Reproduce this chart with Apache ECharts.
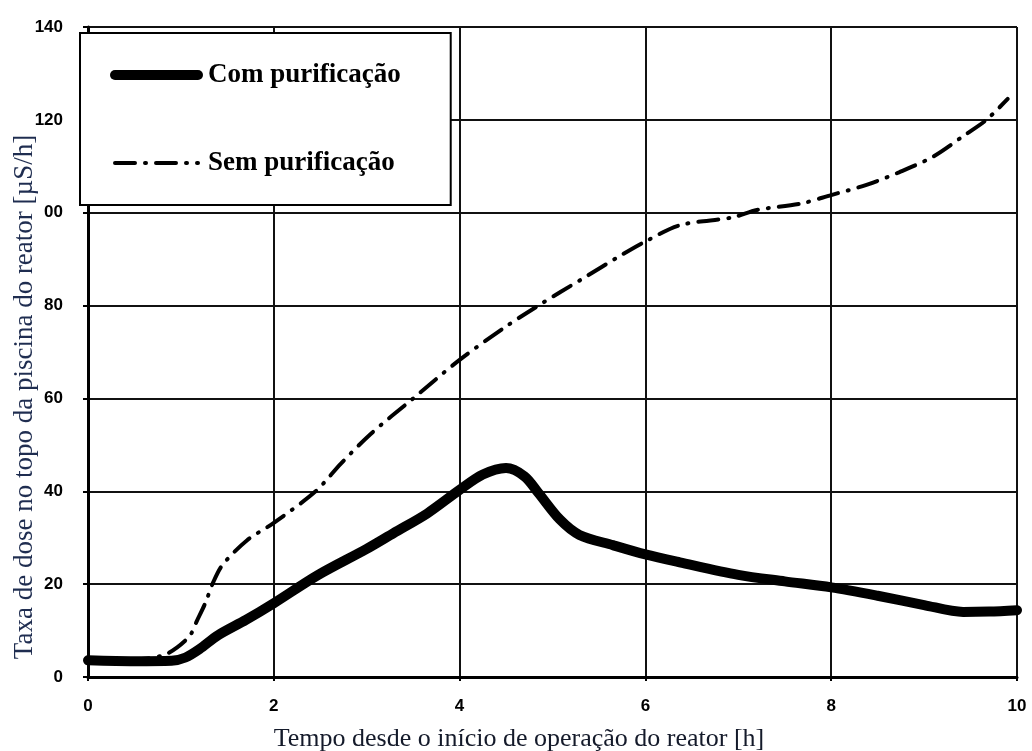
<!DOCTYPE html>
<html>
<head>
<meta charset="utf-8">
<title>Taxa de dose no topo da piscina do reator</title>
<script src="https://cdn.jsdelivr.net/npm/echarts@6/dist/echarts.min.js"></script>
<style>
  html, body { margin: 0; padding: 0; background: #fff; }
  #chart { width: 1032px; height: 751px; }
</style>
</head>
<body>
<div id="chart"></div>
<script>
// Dose rate at the top of the reactor pool vs. time since reactor start-up
const seriesNames = ['Com purificação', 'Sem purificação'];

// [time (h), dose rate (µS/h)]
const comPurificacao = [
  [0, 3.6], [0.5, 3.4], [0.9, 3.5], [1.05, 4.2], [1.2, 6.0], [1.4, 9.0],
  [1.7, 12.3], [2, 15.9], [2.47, 21.9], [3, 27.6], [3.29, 31.0], [3.65, 35.2],
  [4, 40.3], [4.25, 43.6], [4.5, 45.0], [4.7, 43.2], [4.85, 39.6], [5.08, 33.9],
  [5.29, 30.6], [5.65, 28.4], [6, 26.4], [6.37, 24.7], [7, 22.0], [7.5, 20.6],
  [8, 19.3], [8.5, 17.5], [9, 15.5], [9.42, 14.0], [9.7, 14.1], [10, 14.4]
];

const semPurificacao = [
  [0, 3.8], [0.5, 3.8], [0.8, 4.6], [0.96, 6.4], [1.1, 9.0], [1.17, 12.0],
  [1.26, 15.8], [1.35, 20.5], [1.45, 24.2], [1.71, 29.4], [2, 33.2], [2.45, 40.0],
  [2.72, 45.9], [3.04, 52.3], [3.5, 60.0], [4, 68.3], [4.5, 75.5], [4.88, 80.4],
  [5.3, 85.5], [5.76, 91.1], [6, 93.8], [6.37, 97.3], [6.94, 99.0], [7.2, 100.6],
  [7.66, 101.9], [8, 103.8], [8.38, 106.0], [8.73, 108.7], [9.09, 112.0],
  [9.45, 116.9], [9.67, 120.0], [9.9, 124.5]
];

const xTickLabels = ['0', '2', '4', '6', '8', '10'];
const yTickLabels = ['0', '20', '40', '60', '80', '00', '120', '140'];

const sansBold = { fontFamily: "'Liberation Sans', Arial, sans-serif", fontWeight: 'bold', fontSize: 17, color: '#000' };
const serif = "'Liberation Serif', 'Times New Roman', serif";

const comLine = { color: '#000', width: 10, cap: 'round', join: 'round' };
const semLine = { color: '#000', width: 4, type: [20, 10, 1, 10], cap: 'round' };

const chart = echarts.init(document.getElementById('chart'), null, { renderer: 'canvas' });

chart.setOption({
  backgroundColor: '#fff',
  animation: false,
  grid: {
    left: 88, right: 15, top: 27, bottom: 74,
    outerBoundsMode: 'none'
  },
  legend: {
    data: [
      { name: seriesNames[0], itemStyle: { opacity: 0 }, lineStyle: comLine },
      { name: seriesNames[1], itemStyle: { opacity: 0 }, lineStyle: semLine }
    ],
    orient: 'vertical',
    left: 80, top: 33,
    padding: [28, 50, 28, 30],
    itemWidth: 83,
    itemHeight: 28,
    itemGap: 60,
    backgroundColor: '#fff',
    borderColor: '#000',
    borderWidth: 2,
    borderRadius: 0,
    textStyle: {
      fontFamily: serif,
      fontWeight: 'bold',
      fontSize: 27,
      lineHeight: 28,
      color: '#000',
      padding: [0, 0, 0, 5]
    }
  },
  xAxis: {
    type: 'value',
    min: 0, max: 10, interval: 2,
    name: 'Tempo desde o início de operação do reator [h]',
    nameLocation: 'middle',
    nameGap: 49,
    nameMoveOverlap: false,
    nameTextStyle: { fontFamily: serif, fontSize: 26, color: '#141a2a', padding: [0, 67, 0, 0] },
    axisLine: { show: true, onZero: false, lineStyle: { color: '#000', width: 3 } },
    axisTick: { show: true, length: 4, lineStyle: { color: '#000', width: 2 } },
    axisLabel: Object.assign({ margin: 21, formatter: v => xTickLabels[Math.round(v / 2)] }, sansBold),
    splitLine: { show: true, lineStyle: { color: '#111', width: 2 } }
  },
  yAxis: {
    type: 'value',
    min: 0, max: 140, interval: 20,
    name: 'Taxa de dose no topo da piscina do reator [µS/h]',
    nameLocation: 'middle',
    nameGap: 50,
    nameMoveOverlap: false,
    nameTextStyle: { fontFamily: serif, fontSize: 27, color: '#1f2d50', padding: [0, 90, 0, 0] },
    axisLine: { show: true, onZero: false, lineStyle: { color: '#000', width: 3 } },
    axisTick: { show: true, length: 5, lineStyle: { color: '#000', width: 2 } },
    axisLabel: Object.assign({ margin: 25, formatter: v => yTickLabels[Math.round(v / 20)] }, sansBold),
    splitLine: { show: true, lineStyle: { color: '#111', width: 2 } }
  },
  series: [
    {
      name: seriesNames[1],
      type: 'line',
      data: semPurificacao,
      smooth: 0.3,
      symbol: 'none',
      z: 2,
      itemStyle: { color: '#000' },
      lineStyle: semLine
    },
    {
      name: seriesNames[0],
      type: 'line',
      data: comPurificacao,
      smooth: 0.3,
      symbol: 'none',
      z: 3,
      itemStyle: { color: '#000' },
      lineStyle: comLine
    }
  ]
});
</script>
</body>
</html>
